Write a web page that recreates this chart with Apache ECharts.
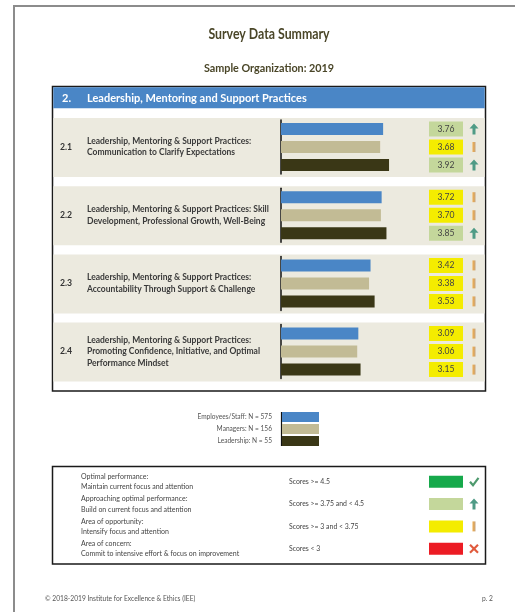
<!DOCTYPE html>
<html><head><meta charset="utf-8">
<script src="https://cdn.jsdelivr.net/npm/echarts@6/dist/echarts.min.js"></script>
<style>html,body{margin:0;padding:0;background:#fff}#c{width:515px;height:612px}</style>
</head><body><div id="c"></div>
<script>
// ---- data ----
const groups = ['Employees/Staff', 'Managers', 'Leadership'];
const groupN = [575, 156, 55];
const itemCodes = ['2.1', '2.2', '2.3', '2.4'];
const itemTexts = [
  'Leadership, Mentoring & Support Practices:\nCommunication to Clarify Expectations',
  'Leadership, Mentoring & Support Practices: Skill\nDevelopment, Professional Growth, Well-Being',
  'Leadership, Mentoring & Support Practices:\nAccountability Through Support & Challenge',
  'Leadership, Mentoring & Support Practices:\nPromoting Confidence, Initiative, and Optimal\nPerformance Mindset'
];
const employees = [3.76, 3.72, 3.42, 3.09];
const managers = [3.68, 3.70, 3.38, 3.06];
const leadership = [3.92, 3.85, 3.53, 3.15];
const scaleMin = 1, scaleMax = 5;
const thresholds = [4.5, 3.75, 3];
const keyTitles = ['Optimal performance:', 'Approaching optimal performance:', 'Area of opportunity:', 'Area of concern:'];
const keySubs = ['Maintain current focus and attention', 'Build on current focus and attention', 'Intensify focus and attention', 'Commit to intensive effort & focus on improvement'];
const keyRanges = ['Scores >= 4.5', 'Scores >= 3.75 and < 4.5', 'Scores >= 3 and < 3.75', 'Scores < 3'];
const pageTitle = 'Survey Data Summary';
const pageSubtitle = 'Sample Organization: 2019';
const sectionNo = '2.';
const sectionTitle = 'Leadership, Mentoring and Support Practices';
const footerLeft = '\u00A9 2018-2019 Institute for Excellence & Ethics (IEE)';
const footerRight = 'p. 2';

// ---- style ----
const groupColors = ['#4a86c6', '#c2bb95', '#3a3716'];
const levelColors = ['#16a94b', '#c4d79b', '#f4ec00', '#ec1c24'];
const levelIcons = ['check', 'up', 'excl', 'x'];
const FONT = 'Lato, "Open Sans", sans-serif';
const values = [employees, managers, leadership];

function level(v) {
  for (let i = 0; i < thresholds.length; i++) if (v >= thresholds[i]) return i;
  return 3;
}
function icon(type, cx, cy) {
  if (type === 'up') return { type: 'polygon', shape: { points: [[cx, cy - 5.5], [cx + 4.5, cy - 0.5], [cx + 1.5, cy - 0.5], [cx + 1.5, cy + 5.5], [cx - 1.5, cy + 5.5], [cx - 1.5, cy - 0.5], [cx - 4.5, cy - 0.5]] }, style: { fill: '#4f9b86' } };
  if (type === 'excl') return { type: 'rect', shape: { x: cx - 1.5, y: cy - 5, width: 3, height: 10 }, style: { fill: new echarts.graphic.LinearGradient(0, 0, 1, 0, [{ offset: 0, color: '#eeac4c' }, { offset: 1, color: '#c9a57c' }]) } };
  if (type === 'check') return { type: 'polyline', shape: { points: [[cx - 4, cy], [cx - 1, cy + 3.5], [cx + 4.5, cy - 4]] }, style: { stroke: '#4e9a6e', lineWidth: 2.2, fill: null } };
  return { type: 'group', children: [
    { type: 'line', shape: { x1: cx - 4, y1: cy - 4, x2: cx + 4, y2: cy + 4 }, style: { stroke: '#e05a3c', lineWidth: 2.2 } },
    { type: 'line', shape: { x1: cx + 4, y1: cy - 4, x2: cx - 4, y2: cy + 4 }, style: { stroke: '#e05a3c', lineWidth: 2.2 } }
  ] };
}

// ---- layout ----
const gridLeft = 281, gridWidth = 148, rowTop0 = 120, rowStep = 68.2, rowH = 54;
const grids = [], xAxes = [], yAxes = [], series = [], graphics = [];

// page frame
graphics.push({ type: 'line', shape: { x1: 13, y1: 6, x2: 515, y2: 6 }, style: { stroke: '#8c8c8c', lineWidth: 2 } });
graphics.push({ type: 'line', shape: { x1: 14, y1: 5, x2: 14, y2: 612 }, style: { stroke: '#8c8c8c', lineWidth: 2 } });
// titles
graphics.push({ type: 'text', x: 269, y: 34, scaleX: 0.85, style: { text: pageTitle, x: 0, y: 0, align: 'center', verticalAlign: 'middle', font: 'bold 14.5px ' + FONT, fill: '#4a4628' } });
graphics.push({ type: 'text', style: { text: pageSubtitle, x: 269, y: 69, align: 'center', verticalAlign: 'middle', font: 'bold 10.8px ' + FONT, fill: '#4a4628' } });
// main box
graphics.push({ type: 'rect', shape: { x: 52.5, y: 86.5, width: 433, height: 304.5 }, style: { fill: '#fff', stroke: '#1a1a1a', lineWidth: 1.5 }, z: -1 });
graphics.push({ type: 'rect', shape: { x: 53.3, y: 87.3, width: 431.4, height: 21 }, style: { fill: '#4a86c6' } });
graphics.push({ type: 'text', style: { text: sectionNo, x: 62, y: 98, verticalAlign: 'middle', font: 'bold 11px ' + FONT, fill: '#fff' } });
graphics.push({ type: 'text', style: { text: sectionTitle, x: 87, y: 98, verticalAlign: 'middle', font: 'bold 11px ' + FONT, fill: '#fff' } });

itemCodes.forEach((code, k) => {
  const top = rowTop0 + k * rowStep;
  const mid = top + rowH / 2;
  graphics.push({ type: 'rect', shape: { x: 53.3, y: top - 2, width: 431.4, height: 59 }, style: { fill: '#eceadf' } });
  graphics.push({ type: 'text', style: { text: code, x: 60, y: mid, verticalAlign: 'middle', font: 'bold 8.7px ' + FONT, fill: '#333' } });
  graphics.push({ type: 'text', style: { text: itemTexts[k], x: 87, y: mid, verticalAlign: 'middle', lineHeight: 11.5, font: 'bold 8.5px ' + FONT, fill: '#3a3a3a' } });

  grids.push({ left: gridLeft, width: gridWidth, top: top, height: rowH });
  xAxes.push({ type: 'value', gridIndex: k, min: scaleMin, max: scaleMax, show: false });
  yAxes.push({ type: 'category', gridIndex: k, data: groups, inverse: true,
    axisLine: { show: true, lineStyle: { color: '#111', width: 1.5 } },
    axisTick: { show: false }, axisLabel: { show: false }, splitLine: { show: false } });
  groups.forEach((g, gi) => {
    series.push({ type: 'bar', name: g, xAxisIndex: k, yAxisIndex: k, barWidth: 12, barGap: '-100%',
      itemStyle: { color: groupColors[gi] },
      data: groups.map((_, i) => i === gi ? values[gi][k] : '-') });
  });
  series.push({ type: 'custom', xAxisIndex: k, yAxisIndex: k, clip: false,
    data: groups.map((_, i) => [values[i][k], i]),
    encode: { x: 0, y: 1 },
    renderItem: function (params, api) {
      const v = api.value(0), idx = api.value(1);
      const p = api.coord([scaleMax, idx]);
      const lv = level(v);
      return { type: 'group', children: [
        { type: 'rect', shape: { x: p[0], y: p[1] - 7.5, width: 34, height: 15 }, style: { fill: levelColors[lv] } },
        { type: 'text', style: { text: v.toFixed(2), x: p[0] + 17, y: p[1], align: 'center', verticalAlign: 'middle', font: '8.6px ' + FONT, fill: '#444' } },
        icon(levelIcons[lv], p[0] + 45, p[1])
      ] };
    } });
});

// group legend axis line
graphics.push({ type: 'line', shape: { x1: 281.5, y1: 412, x2: 281.5, y2: 446 }, style: { stroke: '#111', lineWidth: 1.2 } });

// key box
graphics.push({ type: 'rect', shape: { x: 52.5, y: 466.5, width: 433, height: 97.5 }, style: { fill: '#fff', stroke: '#1a1a1a', lineWidth: 1.5 }, z: -1 });
keyTitles.forEach((t, i) => {
  const cy = 481.8 + i * 22.3;
  graphics.push({ type: 'text', style: { text: t + '\n' + keySubs[i], x: 81, y: cy, verticalAlign: 'middle', lineHeight: 10.3, font: '7px ' + FONT, fill: '#444' } });
  graphics.push({ type: 'text', style: { text: keyRanges[i], x: 289, y: cy, verticalAlign: 'middle', font: '6.9px ' + FONT, fill: '#444' } });
  graphics.push({ type: 'rect', shape: { x: 429, y: cy - 6, width: 34, height: 12 }, style: { fill: levelColors[i] } });
  graphics.push(icon(levelIcons[i], 474, cy));
});

// footer
graphics.push({ type: 'text', style: { text: footerLeft, x: 45, y: 599, verticalAlign: 'middle', font: '6.7px ' + FONT, fill: '#555' } });
graphics.push({ type: 'text', style: { text: footerRight, x: 493, y: 599, align: 'right', verticalAlign: 'middle', font: '6.7px ' + FONT, fill: '#555' } });

const chart = echarts.init(document.getElementById('c'), null, { renderer: 'canvas' });
chart.setOption({
  animation: false,
  backgroundColor: '#fff',
  grid: grids, xAxis: xAxes, yAxis: yAxes, series: series,
  legend: {
    data: groups, orient: 'vertical', right: 196, top: 412, padding: 0,
    itemWidth: 37, itemHeight: 10, itemGap: 2, align: 'right', icon: 'rect', selectedMode: false,
    formatter: function (name) { return name + ': N = ' + groupN[groups.indexOf(name)]; },
    textStyle: { fontSize: 6.6, color: '#555', fontFamily: FONT, padding: [0, 5, 0, 0] }
  },
  graphic: { elements: graphics }
});
</script></body></html>
